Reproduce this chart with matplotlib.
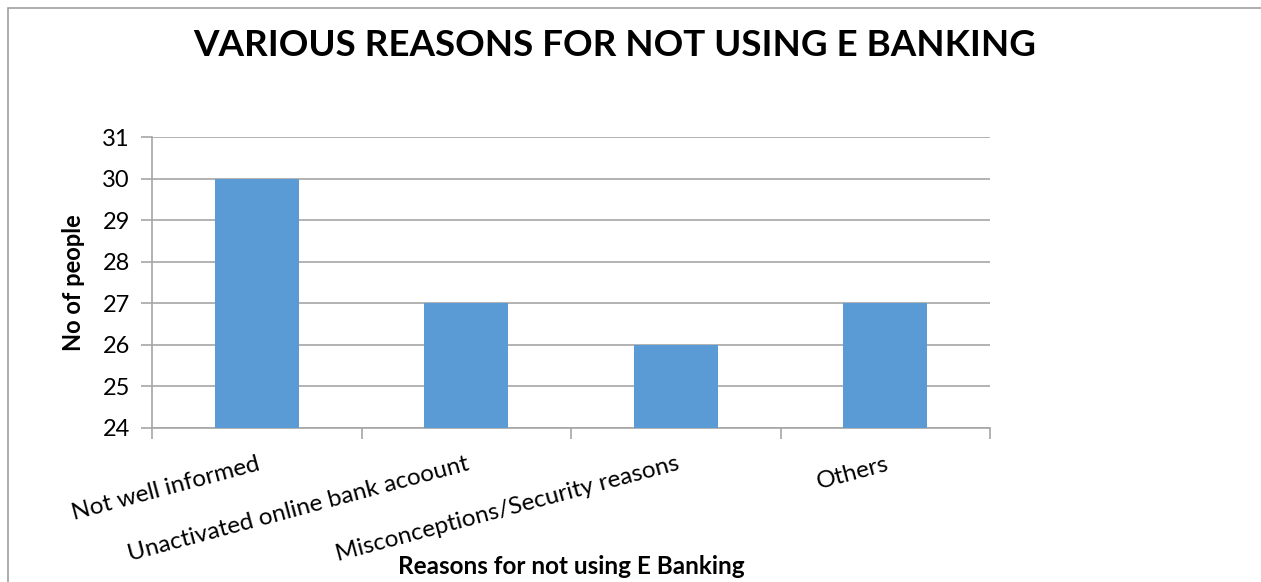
import matplotlib.pyplot as plt
from matplotlib.patches import Rectangle

categories = ['Not well informed', 'Unactivated online bank acoount',
              'Misconceptions/Security reasons', 'Others']
people = [30, 27, 26, 27]
yticks = [24, 25, 26, 27, 28, 29, 30, 31]

plt.rcParams['font.family'] = ['Lato', 'DejaVu Sans']
grid_col = '#A6A6A6'

fig = plt.figure(figsize=(12.61, 5.82), dpi=100)
ax = fig.add_axes([152 / 1261, 1 - 428 / 582, (990 - 152) / 1261, (428 - 137) / 582])

x = list(range(len(categories)))
ax.bar(x, [p - yticks[0] for p in people], bottom=yticks[0], width=0.4,
       color='#5B9BD5', zorder=3)

ax.set_ylim(yticks[0], yticks[-1])
ax.set_xlim(-0.5, len(categories) - 0.5)
ax.set_yticks(yticks)
ax.set_yticklabels([str(v) for v in yticks], fontsize=17)
ax.yaxis.grid(True, color=grid_col, linewidth=1.2, zorder=0)

ax.set_xticks([i - 0.5 for i in range(len(categories) + 1)])
ax.set_xticklabels([])
ax.set_xticks(x, minor=True)
ax.set_xticklabels(categories, minor=True, rotation=15, ha='right',
                   rotation_mode='anchor', fontsize=17.5)
ax.tick_params(axis='x', which='major', length=8, color=grid_col, width=1.2)
ax.tick_params(axis='x', which='minor', length=0, pad=18)
ax.tick_params(axis='y', length=8, color=grid_col, width=1.2, pad=8)

for s in ['top', 'right']:
    ax.spines[s].set_visible(False)
for s in ['left', 'bottom']:
    ax.spines[s].set_color(grid_col)
    ax.spines[s].set_linewidth(1.2)

ax.set_ylabel('No of people', fontsize=17, fontweight='bold', labelpad=12)
fig.text(571 / 1261, 1 - 566 / 582, 'Reasons for not using E Banking',
         fontsize=17.5, fontweight='bold', ha='center', va='center')
fig.text(615 / 1261, 1 - 46 / 582, 'VARIOUS REASONS FOR NOT USING E BANKING',
         fontsize=26.5, fontweight='bold', ha='center', va='center')

fig.patches.append(Rectangle((8 / 1261, -0.1), 1.2, 1 - 8 / 582 + 0.1,
                             transform=fig.transFigure, fill=False,
                             edgecolor='#A0A0A0', linewidth=1.2))

fig.savefig('out.png', dpi=100)
